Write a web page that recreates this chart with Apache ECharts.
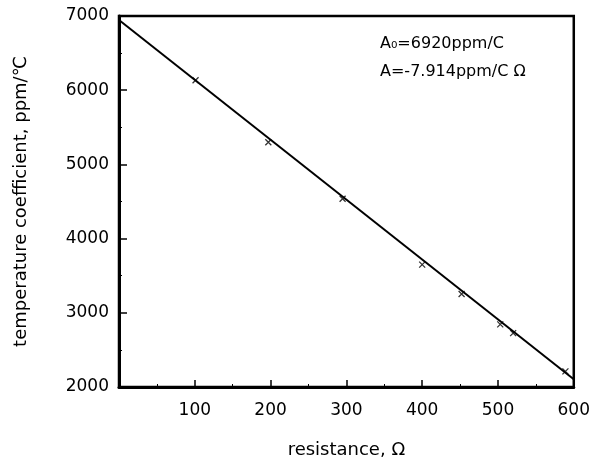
<!DOCTYPE html>
<html><head><meta charset="utf-8">
<script src="https://cdn.jsdelivr.net/npm/echarts@6/dist/echarts.min.js"></script>
<style>html,body{margin:0;padding:0;background:#fff}#c{width:593px;height:464px}</style>
</head><body><div id="c"></div>
<script>
const resistance = [101, 197, 295, 400, 452, 503, 520, 589];
const tempCoef = [6133, 5298, 4537, 3649, 3253, 2844, 2726, 2211];
const fitX = [0, 600];
const fitY = [6947, 2105];
const xTickLabels = ['', '100', '200', '300', '400', '500', '600'];
const yTickLabels = ['2000', '3000', '4000', '5000', '6000', '7000'];
const annotation = ['A\u2080=6920ppm/C', 'A=-7.914ppm/C \u03A9'];

const font = 'DejaVu Sans';
const chart = echarts.init(document.getElementById('c'));
chart.setOption({
  backgroundColor: '#fff',
  animation: false,
  grid: { left: 119, right: 19, top: 16, bottom: 69, show: true, borderColor: '#000', borderWidth: 2.5, backgroundColor: 'transparent' },
  xAxis: {
    type: 'value', min: 0, max: 600, interval: 100,
    name: 'resistance, \u03A9', nameLocation: 'middle', nameGap: 54,
    nameTextStyle: { fontFamily: font, fontSize: 18, color: '#000' },
    axisLine: { show: true, lineStyle: { color: '#000', width: 3 } },
    axisTick: { show: true, inside: true, length: 7, lineStyle: { color: '#000', width: 1.5 } },
    minorTick: { show: true, splitNumber: 2, length: 3, lineStyle: { color: '#000', width: 1 } },
    splitLine: { show: false },
    axisLabel: { fontFamily: font, fontSize: 17, color: '#000', margin: 15,
      formatter: v => xTickLabels[Math.round(v / 100)] }
  },
  yAxis: {
    type: 'value', min: 2000, max: 7000, interval: 1000,
    name: 'temperature coefficient, ppm/\u2103', nameLocation: 'middle', nameGap: 89,
    nameTextStyle: { fontFamily: font, fontSize: 18, color: '#000' },
    axisLine: { show: true, lineStyle: { color: '#000', width: 3 } },
    axisTick: { show: true, inside: true, length: 8, lineStyle: { color: '#000', width: 1.5 } },
    minorTick: { show: true, splitNumber: 2, length: 3, lineStyle: { color: '#000', width: 1 } },
    splitLine: { show: false },
    axisLabel: { fontFamily: font, fontSize: 17, color: '#000', margin: 10,
      formatter: v => yTickLabels[Math.round((v - 2000) / 1000)] }
  },
  series: [
    {
      type: 'line', data: fitX.map((x, i) => [x, fitY[i]]),
      showSymbol: false, symbol: 'none',
      lineStyle: { color: '#000', width: 2 }, z: 3
    },
    {
      type: 'scatter', data: resistance.map((x, i) => [x, tempCoef[i]]),
      symbol: 'path://M0,0L10,10M10,0L0,10', symbolSize: 6,
      itemStyle: { color: 'none', borderColor: '#000', borderWidth: 1.3 }, z: 4
    }
  ],
  graphic: [
    { type: 'text', left: 380, top: 36, style: { text: annotation[0], fontFamily: font, fontSize: 16, fill: '#000' } },
    { type: 'text', left: 380, top: 64, style: { text: annotation[1], fontFamily: font, fontSize: 16, fill: '#000' } }
  ]
});
</script></body></html>
